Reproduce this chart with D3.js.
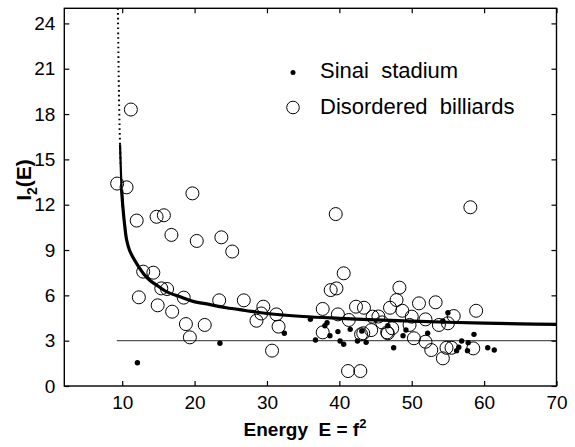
<!DOCTYPE html>
<html>
<head>
<meta charset="utf-8">
<script src="https://cdn.jsdelivr.net/npm/d3@7/dist/d3.min.js"></script>
<style>
html,body{margin:0;padding:0;background:#fff;}
svg{display:block;}
text{font-family:"Liberation Sans",Arial,Helvetica,sans-serif;fill:#000;white-space:pre;}
</style>
</head>
<body>
<svg id="chart" width="575" height="447"></svg>
<script>
// ---- data ----
const xTicks = [10, 20, 30, 40, 50, 60, 70];
const yTicks = [0, 3, 6, 9, 12, 15, 18, 21, 24];

// fitted curve
const curveE = [9.40, 9.45, 9.50, 9.56, 9.62, 9.70, 9.80, 9.92, 10.1, 10.35, 10.6, 11.0, 11.5, 12.0, 13.0, 13.8, 15.0, 16.1, 18.0, 19.8, 22.0, 24.4, 27.0, 30.0, 35.0, 40.0, 45.0, 50.0, 55.0, 60.0, 65.0, 70.0];
const curveI = [25.0, 23.0, 21.0, 19.0, 17.5, 16.0, 14.5, 13.0, 11.8, 10.6, 9.7, 9.0, 8.5, 8.1, 7.4, 7.0, 6.6, 6.25, 5.9, 5.6, 5.4, 5.18, 5.0, 4.8, 4.6, 4.48, 4.38, 4.3, 4.22, 4.16, 4.11, 4.08];

// reference level
const refLevel = 3;
const refStartE = 9.25;

// Disordered billiards (open circles)
const billE = [9.3, 10.6, 11.2, 12.0, 14.75, 15.76, 16.8, 19.7, 20.3, 23.7, 25.2, 12.9, 14.3, 12.3, 15.4, 16.2, 14.9, 16.9, 18.5, 18.8, 19.35, 21.4, 23.4, 26.8, 28.55, 29.2, 29.5, 30.7, 31.3, 31.6,
  39.5, 40.6, 38.8, 39.6, 37.7, 39.8, 41.3, 37.7, 42.3, 43.4, 43.0, 44.4, 44.6, 45.4, 45.9, 47.0, 47.9, 48.3, 48.7, 46.6, 47.3, 50.0, 51.0, 50.3, 51.9, 41.2, 42.9,
  58.1, 58.9, 53.3, 51.9, 49.7, 52.7, 54.3, 53.75, 55.0, 55.8, 54.8, 55.5, 58.5, 43.3, 46.7];
const billI = [13.4, 13.15, 18.3, 10.95, 11.2, 11.3, 10.0, 12.75, 9.6, 9.84, 8.9, 7.57, 7.5, 5.87, 6.46, 6.42, 5.34, 4.92, 5.85, 4.1, 3.22, 4.04, 5.67, 5.67, 4.32, 4.8, 5.25, 2.34, 4.74, 3.93,
  11.38, 7.46, 6.35, 6.46, 5.1, 4.74, 4.37, 3.55, 5.25, 5.18, 3.42, 3.7, 4.59, 4.6, 4.21, 5.18, 5.69, 6.51, 4.98, 3.55, 3.82, 4.59, 5.47, 3.16, 2.93, 0.99, 0.99,
  11.83, 4.98, 5.54, 4.41, 4.04, 2.38, 1.83, 4.04, 4.15, 4.63, 2.53, 2.53, 2.49, 3.49, 3.49];

// Sinai stadium (filled dots)
const sinaiE = [12.1, 23.5, 32.4, 36.0, 36.7, 38.0, 38.3, 38.7, 39.8, 40.1, 40.6, 41.5, 42.5, 43.1, 43.7, 46.7, 47.5, 48.8, 49.2, 52.2, 55.0, 54.3, 56.9, 57.8, 58.6, 56.2, 56.5, 57.7, 60.5, 61.4];
const sinaiI = [1.54, 2.83, 3.49, 4.41, 3.04, 3.99, 4.19, 3.33, 3.6, 2.98, 2.76, 3.75, 2.98, 3.64, 2.89, 3.99, 2.53, 3.33, 3.71, 3.49, 4.85, 4.3, 2.98, 2.87, 3.42, 2.34, 2.56, 2.34, 2.53, 2.38];

const legendLabels = ["Sinai  stadium", "Disordered  billiards"];

// ---- layout ----
const svg = d3.select("#chart");
const L = 64.3, R = 556.5, T = 8.3, B = 386;
const x = d3.scaleLinear().domain([2, 70]).range([L, R]);
const y = d3.scaleLinear().domain([0, 25]).range([B, T]);

// reference line
svg.append("line")
  .attr("x1", x(refStartE)).attr("x2", x(70))
  .attr("y1", y(refLevel)).attr("y2", y(refLevel))
  .attr("stroke", "#555").attr("stroke-width", 1.3);

// curve
const pts = curveE.map((e, i) => [e, curveI[i]]);
const line = d3.line().x(d => x(d[0])).y(d => y(d[1])).curve(d3.curveCatmullRom.alpha(0.5));
const topPts = pts.filter(d => d[1] >= 14.5);
const midPts = pts.filter(d => d[1] <= 16.0 && d[1] >= 11.8);
const lowPts = pts.filter(d => d[1] <= 13.0);
svg.append("path").attr("d", line(topPts)).attr("fill", "none")
  .attr("stroke", "#000").attr("stroke-width", 2).attr("stroke-dasharray", "1.6 3.2");
svg.append("path").attr("d", line(midPts)).attr("fill", "none")
  .attr("stroke", "#000").attr("stroke-width", 2.2);
svg.append("path").attr("d", line(lowPts)).attr("fill", "none")
  .attr("stroke", "#000").attr("stroke-width", 3.2).attr("stroke-linejoin", "round");

// billiards circles
svg.append("g").selectAll("circle").data(billE.map((e, i) => [e, billI[i]])).join("circle")
  .attr("cx", d => x(d[0])).attr("cy", d => y(d[1])).attr("r", 6.5)
  .attr("fill", "none").attr("stroke", "#000").attr("stroke-width", 1);

// sinai dots
svg.append("g").selectAll("circle").data(sinaiE.map((e, i) => [e, sinaiI[i]])).join("circle")
  .attr("cx", d => x(d[0])).attr("cy", d => y(d[1])).attr("r", 2.7)
  .attr("fill", "#000");

// axes (MATLAB-like box with inward ticks)
const tickLen = 5;
const fmt = d => d;
const xAxisB = d3.axisBottom(x).tickValues(xTicks).tickSize(-tickLen).tickPadding(10).tickFormat(fmt);
const xAxisT = d3.axisTop(x).tickValues(xTicks).tickSize(-tickLen).tickFormat("");
const yAxisL = d3.axisLeft(y).tickValues(yTicks).tickSize(-tickLen).tickPadding(9).tickFormat(fmt);
const yAxisR = d3.axisRight(y).tickValues(yTicks).tickSize(-tickLen).tickFormat("");

function styleAxis(g) {
  g.select(".domain").remove();
  g.selectAll("line").attr("stroke", "#000").attr("stroke-width", 1.2);
  g.selectAll("text").attr("font-size", 19).attr("font-family", '"Liberation Sans",Arial,sans-serif').attr("fill", "#000");
}
svg.append("g").attr("transform", `translate(0,${B})`).call(xAxisB).call(styleAxis);
svg.append("g").attr("transform", `translate(0,${T})`).call(xAxisT).call(styleAxis);
svg.append("g").attr("transform", `translate(${L},0)`).call(yAxisL).call(styleAxis);
svg.append("g").attr("transform", `translate(${R},0)`).call(yAxisR).call(styleAxis);

svg.append("rect").attr("x", L).attr("y", T).attr("width", R - L).attr("height", B - T)
  .attr("fill", "none").attr("stroke", "#000").attr("stroke-width", 1.4);

// axis labels
const xl = svg.append("text").attr("x", 305).attr("y", 436).attr("text-anchor", "middle")
  .attr("font-size", 19).attr("font-weight", "bold");
xl.append("tspan").text("Energy  E = f");
xl.append("tspan").attr("dy", -8).attr("font-size", 13).text("2");

const yl = svg.append("text").attr("transform", "translate(31,180) rotate(-90)").attr("text-anchor", "middle")
  .attr("font-size", 21).attr("font-weight", "bold");
yl.append("tspan").text("I");
yl.append("tspan").attr("dy", 6).attr("font-size", 14).text("2");
yl.append("tspan").attr("dy", -6).text("(E)");

// legend
const lg = svg.append("g");
lg.append("circle").attr("cx", 293).attr("cy", 72.5).attr("r", 2.5).attr("fill", "#000");
lg.append("circle").attr("cx", 293).attr("cy", 107.5).attr("r", 6.3).attr("fill", "none").attr("stroke", "#000").attr("stroke-width", 1);
lg.append("text").attr("x", 320).attr("y", 78).attr("font-size", 22).text(legendLabels[0]);
lg.append("text").attr("x", 320).attr("y", 114).attr("font-size", 22).text(legendLabels[1]);
</script>
</body>
</html>
